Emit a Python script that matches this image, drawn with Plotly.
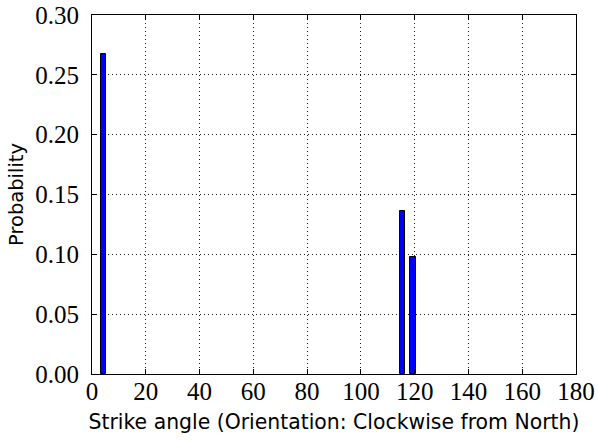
import plotly.graph_objects as go

# Data
angles = [4.2, 115.4, 119.4]          # bin centres (degrees)
probabilities = [0.267, 0.136, 0.098]
bin_width = [2.0, 2.0, 2.0]
x_ticks = [0, 20, 40, 60, 80, 100, 120, 140, 160, 180]
y_ticks = [0.00, 0.05, 0.10, 0.15, 0.20, 0.25, 0.30]

fig = go.Figure()
fig.add_trace(go.Bar(
    x=angles, y=probabilities, width=bin_width,
    marker=dict(color="#0000ff", line=dict(color="black", width=1)),
))

sans = "DejaVu Sans"
serif = "Liberation Serif"
fig.update_layout(
    width=598, height=442,
    margin=dict(l=92, r=22, t=15, b=68),
    paper_bgcolor="white", plot_bgcolor="white",
    showlegend=False, bargap=0,
    xaxis=dict(
        range=[0, 180], tickmode="array", tickvals=x_ticks,
        ticktext=[str(v) for v in x_ticks],
        tickfont=dict(family=serif, size=25, color="black"),
        ticklabelstandoff=-5,
        automargin=False,
        title=dict(text="Strike angle (Orientation: Clockwise from North)",
                   font=dict(family=sans, size=20.4, color="black"), standoff=10),
        showline=True, linecolor="black", linewidth=1, mirror="ticks",
        ticks="inside", ticklen=5, tickcolor="black", tickwidth=1,
        showgrid=True, gridcolor="#222222", griddash="1px,3px", gridwidth=1,
        zeroline=False,
    ),
    yaxis=dict(
        range=[0, 0.30], tickmode="array", tickvals=y_ticks,
        ticktext=[f"{v:.2f}" for v in y_ticks],
        tickfont=dict(family=serif, size=25, color="black"),
        ticklabelstandoff=7,
        automargin=False,
        title=dict(text="Probability", font=dict(family=sans, size=19.5, color="black"), standoff=6),
        showline=True, linecolor="black", linewidth=1, mirror="ticks",
        ticks="inside", ticklen=5, tickcolor="black", tickwidth=1,
        showgrid=True, gridcolor="#222222", griddash="1px,3px", gridwidth=1,
        zeroline=False,
    ),
)
fig.write_html("out.html")
